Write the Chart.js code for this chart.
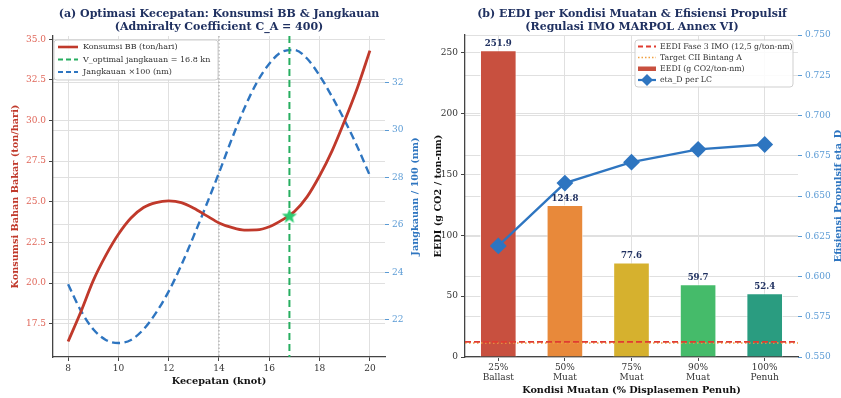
<!DOCTYPE html>
<html>
<head>
<meta charset="utf-8">
<script src="https://cdn.jsdelivr.net/npm/chart.js@4.4.1/dist/chart.umd.min.js"></script>
<style>
  html, body { margin: 0; padding: 0; background: #ffffff; }
  #wrap { position: relative; width: 841px; height: 398px; overflow: hidden; background: #fff; }
  #chartSpeed { position: absolute; left: 0; top: 0; }
  #chartEedi { position: absolute; left: 430px; top: 0; }
</style>
</head>
<body>
<div id="wrap">
  <canvas id="chartSpeed" width="430" height="398" style="width:430px;height:398px"></canvas>
  <canvas id="chartEedi" width="411" height="398" style="width:411px;height:398px"></canvas>
</div>
<script>
// ---- (a) speed optimisation data ----
const speedKnots = [8, 8.5, 9, 9.5, 10, 10.5, 11, 11.5, 12, 12.5, 13, 13.5, 14, 14.5, 15, 15.5, 16, 16.5, 17, 17.5, 18, 18.5, 19, 19.5, 20];
const fuelTonDay = [16.4, 18.2, 20.15, 21.7, 23.0, 24.0, 24.65, 24.95, 25.05, 24.95, 24.6, 24.15, 23.7, 23.42, 23.26, 23.27, 23.46, 23.87, 24.4, 25.3, 26.6, 28.15, 30.0, 32.0, 34.3];
const rangeNm100 = [23.5, 22.4, 21.6, 21.15, 21.02, 21.15, 21.6, 22.3, 23.2, 24.3, 25.55, 26.85, 28.2, 29.6, 30.9, 32.0, 32.8, 33.3, 33.38, 33.02, 32.3, 31.4, 30.4, 29.3, 28.08];
const vOptimal = 16.8;
const fuelAtOptimal = 24.1;
const vReference = 14;

// ---- (b) EEDI per loading condition ----
const loadLabels = [['25%', 'Ballast'], ['50%', 'Muat'], ['75%', 'Muat'], ['90%', 'Muat'], ['100%', 'Penuh']];
const eediValues = [251.9, 124.8, 77.6, 59.7, 52.4];
const etaD = [0.619, 0.658, 0.671, 0.679, 0.682];
const eediPhase3 = 12.5;
const ciiTargetA = 11.5;

const SERIF = "'DejaVu Serif', 'Liberation Serif', serif";
Chart.defaults.font.family = SERIF;
Chart.defaults.animation = false;

const C = {
  red: '#c0392b',
  redTick: '#e0675a',
  blue: '#2e75c0',
  blueTick: '#5b9bd5',
  green: '#27ae60',
  star: '#2ecc71',
  title: '#1f3060',
  grid: '#e0e0e0',
  spine: '#444444',
  text: '#333333',
  barColors: ['#c8503f', '#e8893a', '#d6b12e', '#45bb6a', '#2a9c80'],
  hlineRed: '#e03c31',
  hlineOrange: '#f0a040'
};

function makeStar(outer, color) {
  const inner = outer * 0.42;
  const c = document.createElement('canvas');
  c.width = c.height = Math.ceil(outer * 2 + 2);
  const g = c.getContext('2d');
  const cx = c.width / 2, cy = c.height / 2;
  g.beginPath();
  for (let i = 0; i < 10; i++) {
    const r = i % 2 === 0 ? outer : inner;
    const a = -Math.PI / 2 + i * Math.PI / 5;
    const px = cx + r * Math.cos(a), py = cy + r * Math.sin(a);
    if (i === 0) g.moveTo(px, py); else g.lineTo(px, py);
  }
  g.closePath();
  g.fillStyle = color;
  g.fill();
  return c;
}

function roundRect(ctx, x, y, w, h, r) {
  ctx.beginPath();
  ctx.moveTo(x + r, y);
  ctx.lineTo(x + w - r, y);
  ctx.quadraticCurveTo(x + w, y, x + w, y + r);
  ctx.lineTo(x + w, y + h - r);
  ctx.quadraticCurveTo(x + w, y + h, x + w - r, y + h);
  ctx.lineTo(x + r, y + h);
  ctx.quadraticCurveTo(x, y + h, x, y + h - r);
  ctx.lineTo(x, y + r);
  ctx.quadraticCurveTo(x, y, x + r, y);
  ctx.closePath();
}

function legendFrame(ctx, x, y, w, h) {
  ctx.save();
  roundRect(ctx, x, y, w, h, 3);
  ctx.fillStyle = 'rgba(255,255,255,0.85)';
  ctx.fill();
  ctx.strokeStyle = '#cfcfcf';
  ctx.lineWidth = 1;
  ctx.stroke();
  ctx.restore();
}

function sampleLine(ctx, x0, x1, y, color, width, dash) {
  ctx.save();
  ctx.strokeStyle = color;
  ctx.lineWidth = width;
  ctx.setLineDash(dash || []);
  ctx.beginPath();
  ctx.moveTo(x0, y);
  ctx.lineTo(x1, y);
  ctx.stroke();
  ctx.restore();
}

function text(ctx, str, x, y, font, color, align, rot) {
  ctx.save();
  ctx.font = font;
  ctx.fillStyle = color;
  ctx.textAlign = align || 'center';
  ctx.textBaseline = 'middle';
  ctx.translate(x, y);
  if (rot) ctx.rotate(rot);
  ctx.fillText(str, 0, 0);
  ctx.restore();
}

const tickFont = { family: SERIF, size: 9 };
const titleFont = `bold 11px ${SERIF}`;
const axisFont = `bold 9.7px ${SERIF}`;

// ================= (a) =================
const starImg = makeStar(8, C.star);

const speedDecor = {
  id: 'speedDecor',
  beforeDatasetsDraw(chart) {
    const { ctx, chartArea: a, scales } = chart;
    const x = scales.x.getPixelForValue(vReference);
    ctx.save();
    ctx.strokeStyle = '#a0a0a0';
    ctx.lineWidth = 1;
    ctx.setLineDash([1.5, 2]);
    ctx.beginPath();
    ctx.moveTo(x, a.top);
    ctx.lineTo(x, a.bottom);
    ctx.stroke();
    ctx.restore();
  },
  beforeDatasetDraw(chart, args) {
    if (args.index !== 2) return;
    const { ctx, chartArea: a, scales } = chart;
    const x = scales.x.getPixelForValue(vOptimal);
    ctx.save();
    ctx.strokeStyle = C.green;
    ctx.lineWidth = 2;
    ctx.setLineDash([7, 4]);
    ctx.beginPath();
    ctx.moveTo(x, a.top);
    ctx.lineTo(x, a.bottom);
    ctx.stroke();
    ctx.restore();
  },
  afterDraw(chart) {
    const { ctx, chartArea: a } = chart;
    const midY = (a.top + a.bottom) / 2;
    // titles
    text(ctx, '(a) Optimasi Kecepatan: Konsumsi BB & Jangkauan', 219, 14, titleFont, C.title);
    text(ctx, '(Admiralty Coefficient C_A = 400)', 219, 27, titleFont, C.title);
    // axis titles
    text(ctx, 'Kecepatan (knot)', (a.left + a.right) / 2, 381, axisFont, '#111');
    text(ctx, 'Konsumsi Bahan Bakar (ton/hari)', 15, midY, axisFont, C.red, 'center', -Math.PI / 2);
    text(ctx, 'Jangkauan / 100 (nm)', 415, midY, axisFont, C.blue, 'center', -Math.PI / 2);
    // legend
    legendFrame(ctx, 54, 40, 164, 40);
    sampleLine(ctx, 58, 78, 47, C.red, 2.6);
    sampleLine(ctx, 58, 78, 59.5, C.green, 2, [5, 3]);
    sampleLine(ctx, 58, 78, 72, C.blue, 2.2, [5, 3]);
    const lf = `8px ${SERIF}`;
    text(ctx, 'Konsumsi BB (ton/hari)', 83, 47, lf, C.text, 'left');
    text(ctx, 'V_optimal jangkauan = 16.8 kn', 83, 59.5, lf, C.text, 'left');
    text(ctx, 'Jangkauan ×100 (nm)', 83, 72, lf, C.text, 'left');
  }
};

new Chart(document.getElementById('chartSpeed'), {
  type: 'line',
  data: {
    datasets: [
      {
        label: 'Konsumsi BB (ton/hari)',
        data: speedKnots.map((v, i) => ({ x: v, y: fuelTonDay[i] })),
        yAxisID: 'y',
        borderColor: C.red,
        borderWidth: 2.8,
        pointRadius: 0,
        cubicInterpolationMode: 'monotone',
        order: 2
      },
      {
        label: 'Jangkauan ×100 (nm)',
        data: speedKnots.map((v, i) => ({ x: v, y: rangeNm100[i] })),
        yAxisID: 'y2',
        borderColor: C.blue,
        borderWidth: 2.4,
        borderDash: [8, 4.5],
        pointRadius: 0,
        cubicInterpolationMode: 'monotone',
        order: 3
      },
      {
        label: 'V_optimal',
        data: [{ x: vOptimal, y: fuelAtOptimal }],
        yAxisID: 'y',
        showLine: false,
        pointStyle: starImg,
        pointRadius: 8,
        order: 0
      }
    ]
  },
  options: {
    responsive: false,
    layout: { padding: { top: 36, left: 0, right: 0, bottom: 0 } },
    plugins: { legend: { display: false }, title: { display: false }, tooltip: { enabled: false } },
    scales: {
      x: {
        type: 'linear',
        min: 7.4, max: 20.6,
        afterFit: s => { s.height = 41; },
        ticks: { stepSize: 2, includeBounds: false, color: C.text, font: tickFont, padding: 2, autoSkip: false, maxRotation: 0 },
        grid: { color: C.grid, lineWidth: 1, tickLength: 4, tickColor: C.spine },
        border: { display: true, color: C.spine, width: 1.3 }
      },
      y: {
        type: 'linear', position: 'left',
        min: 15.45, max: 35.2,
        afterFit: s => { s.width = 53; },
        ticks: { stepSize: 2.5, includeBounds: false, color: C.redTick, font: tickFont, padding: 3, callback: v => v.toFixed(1) },
        grid: { color: C.grid, lineWidth: 1, tickLength: 4, tickColor: C.spine },
        border: { display: true, color: C.spine, width: 1.3 }
      },
      y2: {
        type: 'linear', position: 'right',
        min: 20.43, max: 33.97,
        afterFit: s => { s.width = 45; },
        ticks: { stepSize: 2, includeBounds: false, color: C.blueTick, font: tickFont, padding: 3 },
        grid: { color: C.grid, lineWidth: 1, drawOnChartArea: true, tickLength: 4, tickColor: C.blueTick },
        border: { display: false }
      }
    }
  },
  plugins: [speedDecor]
});

// ================= (b) =================
const eediDecor = {
  id: 'eediDecor',
  afterDatasetsDraw(chart) {
    const { ctx, chartArea: a, scales } = chart;
    // regulatory reference lines
    const yRed = scales.y.getPixelForValue(eediPhase3);
    const yOrg = scales.y.getPixelForValue(ciiTargetA);
    ctx.save();
    ctx.strokeStyle = C.hlineOrange;
    ctx.lineWidth = 1.5;
    ctx.setLineDash([1.5, 2.5]);
    ctx.beginPath(); ctx.moveTo(a.left, yOrg); ctx.lineTo(a.right, yOrg); ctx.stroke();
    ctx.strokeStyle = C.hlineRed;
    ctx.lineWidth = 1.8;
    ctx.setLineDash([6, 3]);
    ctx.beginPath(); ctx.moveTo(a.left, yRed); ctx.lineTo(a.right, yRed); ctx.stroke();
    ctx.restore();
    // value labels above bars
    const meta = chart.getDatasetMeta(0);
    meta.data.forEach((bar, i) => {
      ctx.save();
      ctx.font = `bold 8.6px ${SERIF}`;
      ctx.fillStyle = C.title;
      ctx.textAlign = 'center';
      ctx.textBaseline = 'bottom';
      ctx.fillText(eediValues[i].toFixed(1), bar.x, bar.y - 2);
      ctx.restore();
    });
  },
  afterDraw(chart) {
    const { ctx, chartArea: a } = chart;
    const midY = (a.top + a.bottom) / 2;
    text(ctx, '(b) EEDI per Kondisi Muatan & Efisiensi Propulsif', 202, 14, titleFont, C.title);
    text(ctx, '(Regulasi IMO MARPOL Annex VI)', 202, 27, titleFont, C.title);
    text(ctx, 'Kondisi Muatan (% Displasemen Penuh)', (a.left + a.right) / 2, 390, axisFont, '#111');
    text(ctx, 'EEDI (g CO2 / ton-nm)', 8, midY, axisFont, '#111', 'center', -Math.PI / 2);
    text(ctx, 'Efisiensi Propulsif eta_D', 408, midY, axisFont, C.blue, 'center', -Math.PI / 2);
    // legend
    legendFrame(ctx, 205, 40, 158, 47);
    sampleLine(ctx, 208, 226, 46.5, C.hlineRed, 1.8, [5, 3]);
    sampleLine(ctx, 208, 226, 57.5, C.hlineOrange, 1.5, [1.5, 2]);
    ctx.save();
    ctx.fillStyle = C.barColors[0];
    ctx.fillRect(208, 66.5, 18, 4.5);
    ctx.restore();
    sampleLine(ctx, 208, 226, 80, C.blue, 2.2);
    ctx.save();
    ctx.fillStyle = C.blue;
    ctx.beginPath();
    ctx.moveTo(217 - 6, 80); ctx.lineTo(217, 74); ctx.lineTo(217 + 6, 80); ctx.lineTo(217, 86);
    ctx.closePath(); ctx.fill();
    ctx.restore();
    const lf = `7.8px ${SERIF}`;
    text(ctx, 'EEDI Fase 3 IMO (12,5 g/ton-nm)', 230, 46.5, lf, C.text, 'left');
    text(ctx, 'Target CII Bintang A', 230, 57.5, lf, C.text, 'left');
    text(ctx, 'EEDI (g CO2/ton-nm)', 230, 68.8, lf, C.text, 'left');
    text(ctx, 'eta_D per LC', 230, 80, lf, C.text, 'left');
  }
};

new Chart(document.getElementById('chartEedi'), {
  type: 'bar',
  data: {
    labels: loadLabels,
    datasets: [
      {
        type: 'bar',
        label: 'EEDI (g CO2/ton-nm)',
        data: eediValues,
        yAxisID: 'y',
        backgroundColor: C.barColors,
        borderColor: 'rgba(255,255,255,0.7)',
        borderWidth: 1,
        categoryPercentage: 1,
        barPercentage: 0.55,
        order: 2
      },
      {
        type: 'line',
        label: 'eta_D per LC',
        data: etaD,
        yAxisID: 'y2',
        borderColor: C.blue,
        borderWidth: 2.3,
        pointStyle: 'rectRot',
        pointRadius: 6.8,
        pointBackgroundColor: C.blue,
        pointBorderColor: C.blue,
        tension: 0,
        order: 1
      }
    ]
  },
  options: {
    responsive: false,
    layout: { padding: { top: 35, left: 0, right: 0, bottom: 0 } },
    plugins: { legend: { display: false }, title: { display: false }, tooltip: { enabled: false } },
    scales: {
      x: {
        afterFit: s => { s.height = 41; },
        ticks: { color: C.text, font: { family: SERIF, size: 9, lineHeight: 1.1 }, padding: 2, autoSkip: false, maxRotation: 0 },
        grid: { offset: false, color: C.grid, lineWidth: 1, tickLength: 4, tickColor: C.spine },
        border: { display: true, color: C.spine, width: 1.3 }
      },
      y: {
        type: 'linear', position: 'left',
        min: 0, max: 264.5,
        afterFit: s => { s.width = 35; },
        ticks: { stepSize: 50, includeBounds: false, color: C.text, font: tickFont, padding: 3 },
        grid: { color: C.grid, lineWidth: 1, tickLength: 4, tickColor: C.spine },
        border: { display: true, color: C.spine, width: 1.3 }
      },
      y2: {
        type: 'linear', position: 'right',
        min: 0.55, max: 0.75,
        afterFit: s => { s.width = 43; },
        ticks: { stepSize: 0.025, includeBounds: false, color: C.blueTick, font: tickFont, padding: 3, callback: v => v.toFixed(3) },
        grid: { color: C.grid, lineWidth: 1, drawOnChartArea: true, tickLength: 4, tickColor: C.blueTick },
        border: { display: false }
      }
    }
  },
  plugins: [eediDecor]
});
</script>
</body>
</html>
